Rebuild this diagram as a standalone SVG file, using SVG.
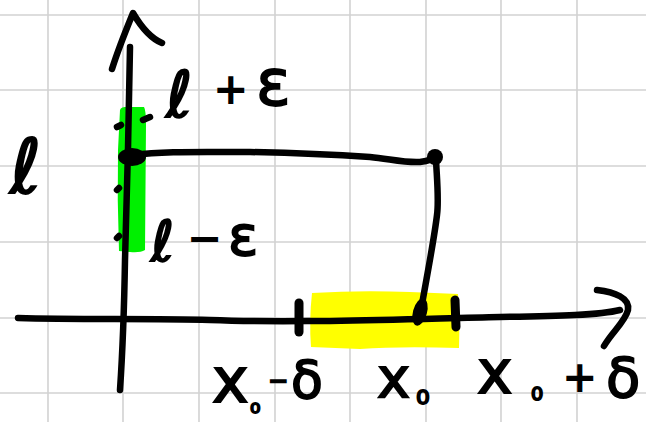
<svg xmlns="http://www.w3.org/2000/svg" width="646" height="422" viewBox="0 0 646 422">
<style>
.grid{stroke:#d2d2d2;stroke-width:1.6;fill:none}
.ink{stroke:#000;stroke-width:6.5;fill:none;stroke-linecap:round;stroke-linejoin:round}
.tick{stroke:#000;stroke-width:9;fill:none;stroke-linecap:round}
.lbl{font-family:"DejaVu Sans",sans-serif;fill:#000;stroke:#000;stroke-width:1.8}
</style>
<rect width="646" height="422" fill="#fff"/>
<g id="grid" class="grid">
<path d="M48,0V422M123,0V422M199,0V422M275,0V422M350,0V422M426,0V422M501,0V422M577,0V422"/>
<path d="M0,15H646M0,90H646M0,166H646M0,242H646M0,318H646M0,393H646"/>
</g>
<g id="highlights">
<path d="M120,110 Q121,106 132,107 L144,107 Q146,110 146,125 L145,250 Q140,253 130,252 L119,251 Q117,200 118,150 Z" fill="#00f000"/>
<path d="M312,293 Q360,290 410,292 L458,294 Q460,320 459,348 Q400,346 360,349 L311,347 Q309,320 312,293 Z" fill="#ffff00"/>
</g>
<g id="connectors">
<path id="y-axis" class="ink" d="M130,47 C129,110 127,200 125,260 C124,320 122,360 120,390"/>
<path id="y-arrow" class="ink" d="M112,69 C118,50 126,30 133,13 C140,25 150,38 162,43"/>
<path id="x-axis" class="ink" d="M18,318 C80,320 150,318 210,320 C260,322 300,321 330,321 C400,320 450,318 500,317 C560,316 600,315 620,310"/>
<path id="x-arrow" class="ink" d="M597,290 C615,292 630,298 628,310 C625,322 612,332 604,346"/>
<path id="h-line" class="ink" d="M135,155 C160,151 200,152 250,152 C300,153 340,155 370,157 C390,159 405,163 420,162 C428,161 432,159 436,158"/>
<path id="v-line" class="ink" d="M436,160 C437,180 439,200 437,215 C434,240 428,270 421,310"/>
</g>
<g id="marks">
<ellipse cx="132" cy="157" rx="14" ry="9" fill="#000"/>
<ellipse cx="435" cy="157" rx="8" ry="8" fill="#000"/>
<ellipse cx="420" cy="312" rx="7" ry="14" transform="rotate(15 420 312)" fill="#000"/>
<path class="ink" d="M117,127 L121,125 M143,120 L150,117"/>
<path class="ink" d="M117,190 L119,188 M117,238 L119,236"/>
<path class="tick" d="M299,303 L299,332"/>
<path class="tick" d="M455,300 L456,327"/>
</g>
<g id="labels">
<text class="lbl"><tspan x="166" y="117" font-size="64">ℓ</tspan><tspan x="214" y="103" font-size="40">+</tspan><tspan x="256" y="105" font-size="64">ε</tspan></text>
<text class="lbl"><tspan x="10" y="193" font-size="76">ℓ</tspan></text>
<text class="lbl"><tspan x="151" y="261" font-size="56">ℓ</tspan><tspan x="188" y="252" font-size="40">−</tspan><tspan x="228" y="255" font-size="56">ε</tspan></text>
<text class="lbl"><tspan x="212" y="402" font-size="62">x</tspan><tspan x="250" y="413" font-size="26">₀</tspan><tspan x="268" y="389" font-size="24">−</tspan><tspan x="291" y="398" font-size="52">δ</tspan></text>
<text class="lbl"><tspan x="377" y="397" font-size="56">x</tspan><tspan x="416" y="404" font-size="34">₀</tspan></text>
<text class="lbl"><tspan x="477" y="393" font-size="60">x</tspan><tspan x="531" y="400" font-size="30">₀</tspan><tspan x="563" y="391" font-size="40">+</tspan><tspan x="606" y="397" font-size="56">δ</tspan></text>
</g>
</svg>
